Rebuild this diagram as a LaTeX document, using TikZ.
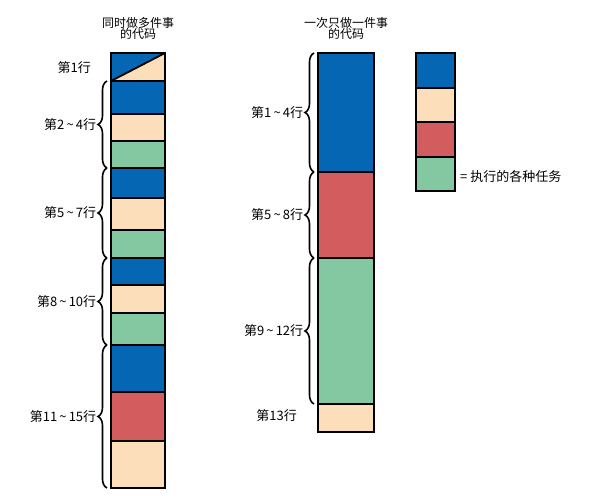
\documentclass[tikz,border=0pt]{standalone}
\usepackage{fontspec}
\setmainfont{Noto Sans CJK SC}
\usetikzlibrary{decorations.pathreplacing}
\definecolor{cb}{HTML}{0566B4}
\definecolor{cp}{HTML}{FCDEBA}
\definecolor{cg}{HTML}{84C8A1}
\definecolor{cr}{HTML}{D25C5E}
\begin{document}
\begin{tikzpicture}[x=1pt,y=-1pt,
  cell/.style={draw=black,line width=1.8pt},
  br/.style={decorate,decoration={brace,amplitude=9pt},line width=1.6pt},
  lbl/.style={font=\fontsize{13}{14}\selectfont,anchor=east,inner sep=1pt},
  hdr/.style={font=\fontsize{12}{14}\selectfont,align=center}]
\useasboundingbox (0,0) rectangle (605,500);
% left column
\fill[cp] (111,53) rectangle (165,81);
\fill[cb] (111,53) -- (165,53) -- (111,81) -- cycle;
\draw[cell] (111,53) rectangle (165,81);
\draw[line width=1.8pt] (111,81) -- (165,53);
\foreach \a/\b/\c in {81/114/cb,114/141/cp,141/168/cg,168/198/cb,198/230/cp,230/258/cg,258/285/cb,285/313/cp,313/345/cg,345/392/cb,392/441/cr,441/488/cp}
  \draw[cell,fill=\c] (111,\a) rectangle (165,\b);
\node[hdr] (h1) at (138,28) {同时做多件事\\[-3pt]的代码};
\node[lbl] (l1) at (92,68) {第1行};
\draw[br] (107,168) -- node[midway,left=9pt,lbl] (l2) {第2\,\textasciitilde\,4行} (107,81);
\draw[br] (107,258) -- node[midway,left=9pt,lbl] (l3) {第5\,\textasciitilde\,7行} (107,168);
\draw[br] (107,345) -- node[midway,left=9pt,lbl] (l4) {第8\,\textasciitilde\,10行} (107,258);
\draw[br] (107,488) -- node[midway,left=9pt,lbl] (l5) {第11\,\textasciitilde\,15行} (107,345);
% middle column
\foreach \a/\b/\c in {53/172/cb,172/258/cr,258/404/cg,404/432/cp}
  \draw[cell,fill=\c] (318,\a) rectangle (374,\b);
\node[hdr] (h2) at (346,28) {一次只做一件事\\[-3pt]的代码};
\draw[br] (314,172) -- node[midway,left=9pt,lbl] (m1) {第1\,\textasciitilde\,4行} (314,53);
\draw[br] (314,258) -- node[midway,left=9pt,lbl] (m2) {第5\,\textasciitilde\,8行} (314,172);
\draw[br] (314,404) -- node[midway,left=9pt,lbl] (m3) {第9\,\textasciitilde\,12行} (314,258);
\node[lbl] (m4) at (298,416) {第13行};
% legend
\foreach \a/\b/\c in {53/88/cb,88/122/cp,122/157/cr,157/191/cg}
  \draw[cell,fill=\c] (416,\a) rectangle (455,\b);
\node[anchor=west,font=\fontsize{13}{14}\selectfont,inner sep=0pt] (leg) at (460,177) {=\ 执行的各种任务};
\end{tikzpicture}
\end{document}
